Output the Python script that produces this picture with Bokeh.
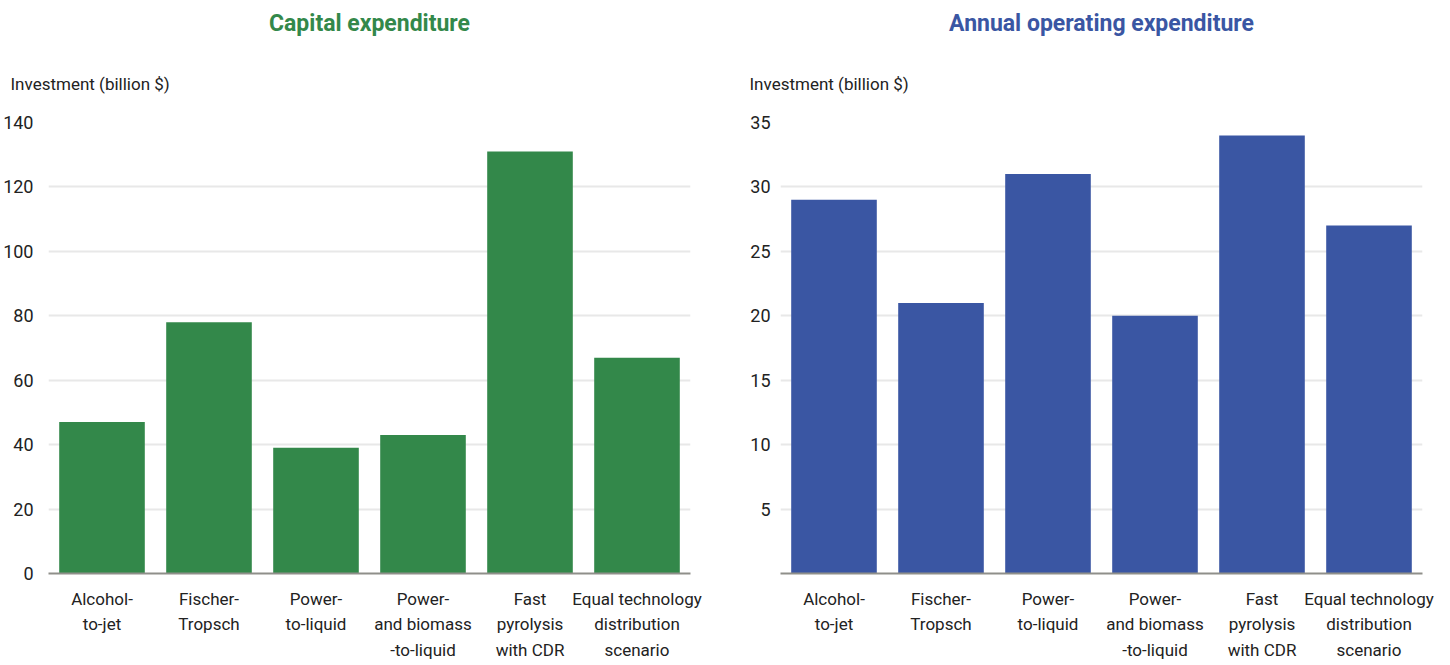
from bokeh.plotting import figure
from bokeh.layouts import row
from bokeh.models import Range1d, FactorRange, FixedTicker, Title
from bokeh.embed import file_html
from bokeh.resources import INLINE

# Technology pathways (multi-line tick labels)
categories = [
    "Alcohol-\nto-jet",
    "Fischer-\nTropsch",
    "Power-\nto-liquid",
    "Power-\nand biomass\n-to-liquid",
    "Fast\npyrolysis\nwith CDR",
    "Equal technology\ndistribution\nscenario",
]

# Investment, billion $
capex = [47, 78, 39, 43, 131, 67]
opex = [29, 21, 31, 20, 34, 27]

capex_ticks = [0, 20, 40, 60, 80, 100, 120, 140]
opex_ticks = [5, 10, 15, 20, 25, 30, 35]

FONT = "Roboto"
TEXT = "#222222"
GREEN = "#33884a"
BLUE = "#3a56a3"


def panel(title, color, values, ticks, ymax, border_left, border_right, ylabel_dx, standoff):
    p = figure(
        width=725, height=665,
        x_range=FactorRange(*categories, range_padding=0),
        y_range=Range1d(0, ymax),
        output_backend="svg", toolbar_location=None,
        min_border_left=border_left, min_border_right=border_right,
        min_border_top=122, min_border_bottom=92,
        background_fill_color="white", border_fill_color="white",
    )
    p.outline_line_color = None

    p.vbar(x=categories, top=values, width=0.8, color=color, line_color=None)

    # y axis: labels only, light horizontal grid
    p.yaxis.ticker = FixedTicker(ticks=ticks)
    p.yaxis.axis_line_color = None
    p.yaxis.major_tick_line_color = None
    p.yaxis.major_tick_out = 0
    p.yaxis.major_tick_in = 0
    p.yaxis.minor_tick_line_color = None
    p.yaxis.minor_tick_out = 0
    p.yaxis.major_label_standoff = standoff
    p.yaxis.major_label_text_font = FONT
    p.yaxis.major_label_text_font_size = "18px"
    p.yaxis.major_label_text_color = TEXT

    p.ygrid.ticker = FixedTicker(ticks=ticks)
    p.ygrid.grid_line_color = "#e8e8e8"
    p.ygrid.grid_line_width = 2
    p.xgrid.grid_line_color = None

    # x axis: grey baseline and multi-line category labels
    p.xaxis.axis_line_color = "#8f8f8a"
    p.xaxis.axis_line_width = 2
    p.xaxis.major_tick_line_color = None
    p.xaxis.major_tick_out = 0
    p.xaxis.major_tick_in = 0
    p.xaxis.minor_tick_line_color = None
    p.xaxis.minor_tick_out = 0
    p.xaxis.major_label_standoff = 15
    p.xaxis.major_label_text_font = FONT
    p.xaxis.major_label_text_font_size = "17px"
    p.xaxis.major_label_text_line_height = 1.28
    p.xaxis.major_label_text_color = TEXT
    p.xaxis.major_label_orientation = "horizontal"

    # unit label, sitting just above the plotting area
    p.add_layout(Title(
        text="Investment (billion $)", align="left", offset=ylabel_dx,
        standoff=57, text_font=FONT, text_font_size="17px",
        text_font_style="normal", text_color=TEXT,
    ), "above")

    # panel heading, outermost
    p.title = Title(
        text=title, align="center", standoff=13,
        text_font=FONT, text_font_size="23px", text_font_style="bold",
        text_color=color,
    )
    return p


left = panel("Capital expenditure", GREEN, capex, capex_ticks, 140, 48, 35, -38, 15)
right = panel("Annual operating expenditure", BLUE, opex, opex_ticks, 35, 55, 28, -31, 10)

layout = row(left, right)
open("out.html", "w").write(file_html(layout, INLINE))
